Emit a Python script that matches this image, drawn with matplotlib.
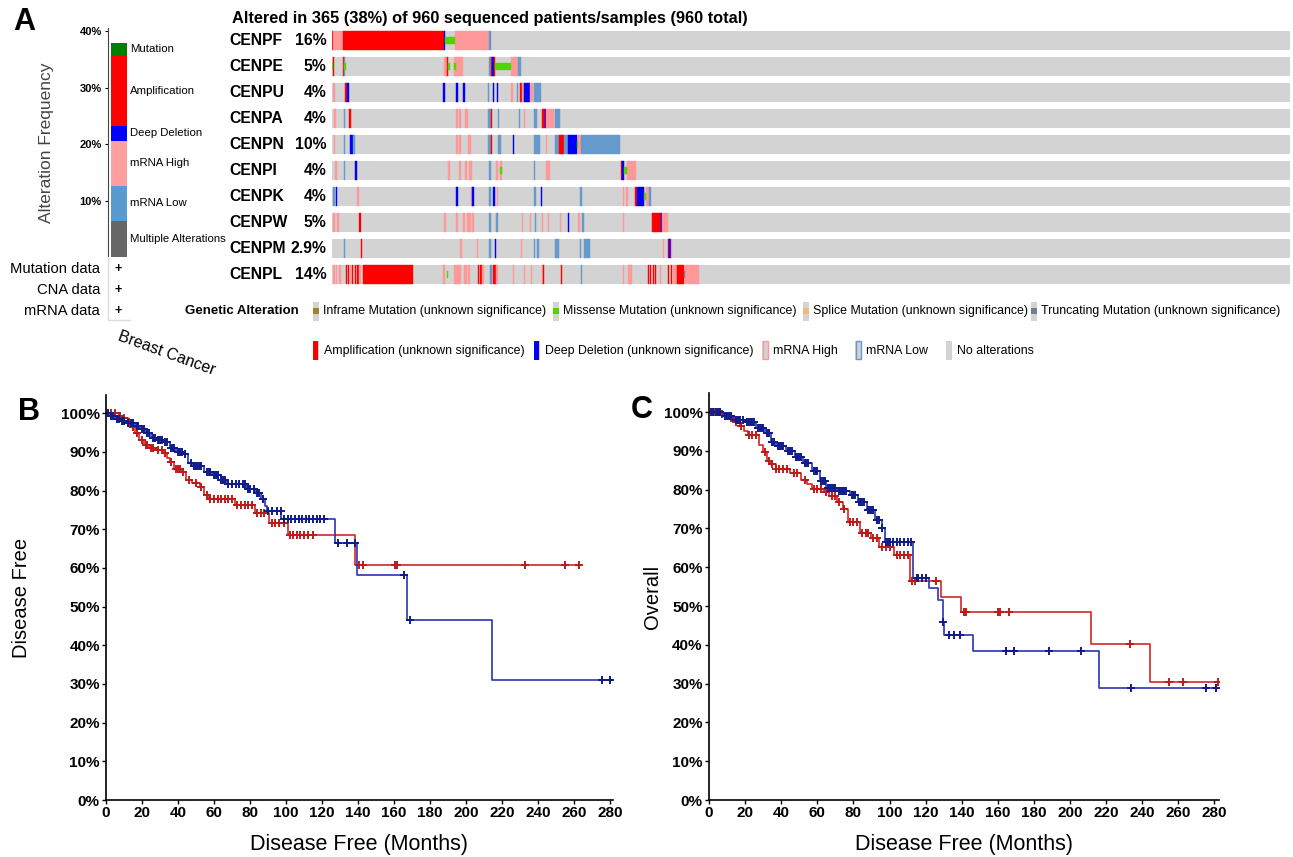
"""
plot.py
CENP family alterations in breast cancer: oncoprint (A) and
Kaplan-Meier curves for disease free (B) and overall survival (C).
"""
import matplotlib
matplotlib.use("Agg")
import matplotlib.pyplot as plt
import matplotlib.transforms as mtransforms
import numpy as np
from matplotlib.patches import Rectangle

W, H = 1293, 857
DPI = 100
OUT_PATH = "out.png"

# ---------------- panel A data ----------------
FREQ_LABELS = ["Multiple Alterations", "mRNA Low", "mRNA High",
               "Deep Deletion", "Amplification", "Mutation"]
FREQ_VALUES = [6.4, 6.2, 8.0, 2.7, 12.4, 2.3]
FREQ_COLORS = ["#666666", "#5a9bcf", "#ff9f9f", "#0000ff", "#ff0000", "#008000"]
FREQ_TICKS = [10, 20, 30, 40]

DATA_TYPES = ["Mutation data", "CNA data", "mRNA data"]

GENES = ["CENPF", "CENPE", "CENPU", "CENPA", "CENPN",
         "CENPI", "CENPK", "CENPW", "CENPM", "CENPL"]
GENE_PCT = ["16%", "5%", "4%", "4%", "10%", "4%", "4%", "5%", "2.9%", "14%"]
N_SAMPLES = 960

# (kind, first sample, last sample)
CENPF_ALT = [("amp", 0, 1.3), ("high", 1.3, 11), ("amp", 11, 112), ("del", 112, 113.5),
             ("mis", 113.5, 123), ("high", 123, 157), ("low", 157, 159.5)]
CENPE_ALT = [("mis", 0, 1), ("amp", 1.3, 2.5), ("amp", 11, 12), ("low", 12, 13), ("mis", 12.5, 14),
             ("high", 112, 115), ("amp", 115, 116.5), ("mis", 116.5, 118), ("high", 122, 131),
             ("mis", 122.5, 124.5), ("low", 157, 159), ("amp", 159, 160.5), ("del", 160.5, 162),
             ("amp", 162, 163), ("mis", 163, 179), ("high", 179, 186), ("low", 186, 189)]
CENPU_ALT = [("high", 0.7, 2.7), ("amp", 13.3, 14.7), ("del", 14.7, 17.3), ("del", 111.7, 113),
             ("del", 124, 126.7), ("del", 131, 133), ("low", 156, 157.5), ("del", 161, 162),
             ("del", 165, 166.5), ("high", 179, 181), ("low", 185.7, 186.7), ("amp", 188.7, 190.7),
             ("high", 190.7, 192), ("del", 192, 198), ("high", 198, 201), ("low", 202, 209.7)]
CENPA_ALT = [("high", 2, 4), ("low", 12, 13.3), ("amp", 17.3, 18.7), ("high", 124, 126),
             ("high", 127.7, 129.3), ("high", 133, 136), ("low", 156.7, 159.3), ("amp", 159.3, 160.7),
             ("low", 166.7, 167.7), ("low", 187.3, 188.3), ("high", 192, 193), ("low", 202, 205.7),
             ("amp", 210.7, 213.3), ("del", 213.3, 214.5), ("high", 214.7, 222.5), ("low", 223, 228)]
CENPN_ALT = [("high", 2, 3.3), ("low", 12, 13.3), ("del", 18, 20.7), ("low", 20.7, 23.3),
             ("high", 124, 126), ("high", 127.7, 129.3), ("high", 136, 139.3), ("low", 156.7, 159.3),
             ("amp", 159.3, 160.7), ("low", 166.7, 169), ("del", 181.3, 182.7), ("low", 202, 208.7),
             ("high", 214.7, 215.7), ("low", 223, 227.3), ("amp", 227.3, 232), ("low", 232, 236),
             ("del", 236, 245.7), ("mis", 245.7, 246.7), ("high", 246.7, 249.7), ("low", 249.7, 289)]
CENPI_ALT = [("high", 3.3, 5.3), ("low", 12, 13.3), ("del", 23.3, 24.7), ("high", 116.7, 118.7),
             ("high", 127.7, 129.3), ("high", 133, 135), ("high", 137.7, 140), ("low", 157.3, 159.3),
             ("high", 164, 166), ("high", 168, 170.7), ("mis", 168.7, 170), ("low", 202, 203),
             ("high", 214.7, 218), ("amp", 289.7, 291), ("del", 291, 292.7), ("mis", 292.7, 295.3),
             ("high", 295.3, 304.7)]
CENPK_ALT = [("low", 0.7, 2.7), ("del", 4, 5.3), ("high", 24.7, 26.7), ("del", 124, 126.3),
             ("high", 139.3, 140.5), ("del", 140.5, 142), ("low", 157, 159.3), ("del", 161, 163.3),
             ("high", 165.3, 166.7), ("low", 202, 204), ("del", 209.7, 210.7), ("low", 249, 250.7),
             ("high", 291.3, 293), ("high", 294.7, 296.3), ("amp", 304, 305.3), ("del", 305.3, 312.3),
             ("mis", 312.3, 314.7), ("high", 314.7, 317.3), ("low", 317.3, 319.7)]
CENPW_ALT = [("high", 1.3, 2.7), ("high", 4.7, 6.7), ("amp", 27.3, 28.7), ("high", 112, 114),
             ("high", 124, 126), ("high", 131, 133.3), ("high", 135.3, 139.3), ("high", 140, 142.7),
             ("low", 157.7, 159.3), ("low", 164.3, 166.7), ("high", 190.7, 191.7), ("high", 198, 199),
             ("low", 203.7, 204.7), ("high", 210.7, 211.7), ("high", 216.3, 217.3), ("high", 228, 229),
             ("del", 236, 237), ("high", 247, 249), ("low", 250.7, 252.7), ("high", 291.3, 292.3),
             ("amp", 320.7, 330), ("del", 330, 331), ("high", 331, 336.7)]
CENPM_ALT = [("low", 12, 13.3), ("amp", 28.7, 30), ("high", 128.7, 130.7), ("high", 145.3, 146.7),
             ("low", 157.7, 159.3), ("del", 163.3, 164.7), ("high", 189, 190), ("low", 202, 203),
             ("low", 205.7, 207), ("low", 223, 227.3), ("low", 249, 250), ("low", 253, 258.7),
             ("high", 331.7, 333), ("amp", 336.3, 338), ("del", 338, 339.3), ("high", 339.3, 340.7)]
CENPL_ALT = [("high", 0.7, 2.7), ("high", 4, 5.3), ("high", 7.3, 9.3), ("amp", 14.3, 15.3),
             ("amp", 16, 17.3), ("high", 18, 19.5), ("amp", 20, 21.3), ("amp", 22.7, 24),
             ("amp", 25.3, 26.7), ("high", 27.5, 29.5), ("amp", 30.7, 81), ("high", 111.3, 113.3),
             ("mis", 115, 116.7), ("high", 122, 129.3), ("high", 132.7, 135.3), ("high", 136, 138.7),
             ("amp", 146, 147.7), ("amp", 148.5, 150), ("high", 150, 152.7), ("low", 158.7, 160),
             ("amp", 161.7, 163), ("amp", 163.5, 164.7), ("high", 164.7, 166.5), ("high", 181.3, 182.7),
             ("high", 192, 193.3), ("high", 199, 200), ("high", 210, 211.3), ("amp", 211.3, 212.7),
             ("amp", 229, 230.3), ("low", 249.7, 251), ("high", 291.3, 292.7), ("high", 296.7, 300.7),
             ("amp", 317, 318), ("amp", 319, 320), ("amp", 321.3, 322.5), ("amp", 323.5, 324.7),
             ("high", 328.5, 329.5), ("amp", 336.3, 337.7), ("amp", 339.7, 340.7),
             ("high", 341.3, 345.3), ("amp", 345.7, 353), ("trunc", 353, 354), ("high", 354, 368)]
GENE_ALTS = [CENPF_ALT, CENPE_ALT, CENPU_ALT, CENPA_ALT, CENPN_ALT,
             CENPI_ALT, CENPK_ALT, CENPW_ALT, CENPM_ALT, CENPL_ALT]

ALT_COLORS = {"amp": "#ff0000", "del": "#0000ff", "high": "#ff9999", "low": "#6699cc",
              "mis": "#53d400", "trunc": "#708090", "inframe": "#a0802f", "splice": "#f0b87b",
              "none": "#d3d3d3"}
THIN_KINDS = ("mis", "trunc", "inframe", "splice")

LEGEND_ROW1 = [("Inframe Mutation (unknown significance)", "inframe"),
               ("Missense Mutation (unknown significance)", "mis"),
               ("Splice Mutation (unknown significance)", "splice"),
               ("Truncating Mutation (unknown significance)", "trunc")]
LEGEND_ROW2 = [("Amplification (unknown significance)", "amp"),
               ("Deep Deletion (unknown significance)", "del"),
               ("mRNA High", "high"), ("mRNA Low", "low"), ("No alterations", "none")]

# ---------------- panel B: disease free ----------------
DFS_ALT_T = [0, 7, 9.5, 12, 14, 16, 18.5, 21, 24, 27.5, 32, 34, 35.5, 37.7, 42, 44.5, 48,
             52, 54.6, 57, 71.6, 82.9, 90.8, 100.9, 138.2, 263.5]
DFS_ALT_S = [100, 99.4, 98.8, 97.6, 96.5, 95, 93.1, 91.8, 91.0, 90.5, 89.7, 88.5, 87.5, 85.5,
             84.9, 82.8, 82.0, 81.0, 78.9, 77.8, 76.3, 74.1, 71.6, 68.5, 60.8, 60.8]
DFS_ALT_CENS = [3, 5, 8, 10, 13, 15, 17, 20, 22, 23, 25, 26, 29, 31, 33, 36, 39, 40, 41, 43, 46,
                50, 53, 56, 58, 60, 62, 64, 66, 68, 70, 73, 75, 77, 79, 81, 84, 86, 88, 92, 94,
                96, 99, 102, 104, 106, 108, 110, 112, 115, 140.4, 142.7, 160.3, 161.9, 233,
                255, 262.8]
DFS_UN_T = [0, 2, 5, 8, 11.7, 16, 19, 22, 25, 28, 32, 35.5, 39, 43, 45.6, 48, 54.6, 59, 63.7,
            67, 78.4, 83, 86, 88.5, 89.6, 97.5, 127, 139.3, 167.5, 214.5, 280.4]
DFS_UN_S = [100, 99.3, 98.5, 98.0, 97.5, 96.8, 96.0, 95.0, 93.5, 93.0, 92.5, 91.0, 90.0, 89.5,
            87.0, 86.3, 84.8, 83.9, 82.8, 81.7, 80.5, 79.3, 77.8, 76.0, 74.7, 72.6, 66.4, 58.2,
            46.6, 31.1, 31.1]
DFS_UN_CENS = [1, 3, 4, 6, 7, 9, 10, 12, 14, 15, 17, 18, 20, 21, 23, 24, 26, 27, 29, 30, 31, 33,
               34, 36, 37, 38, 40, 41, 42, 44, 47, 49, 50, 51, 52, 53, 56, 57, 58, 60, 61, 62,
               64, 65, 66, 68, 70, 72, 74, 76, 77, 79, 80, 82, 84, 85, 87, 90, 92, 95, 97, 99,
               101, 103, 105, 107, 109, 111, 113, 115, 117, 119, 121, 129, 133.7, 138.6, 165.3,
               169, 275.5, 280]

# ---------------- panel C: overall ----------------
OS_ALT_T = [0, 5, 10, 13.4, 17.4, 19.3, 21.6, 27.5, 29.8, 32.2, 34, 36.9, 45, 51, 54.5, 56.8,
            63.9, 66.2, 71, 74.5, 76.8, 83.9, 89.7, 94.4, 102.6, 111.3, 128.5, 139.5, 211.4,
            244.3, 282]
OS_ALT_S = [100, 99.5, 98.5, 97.5, 96.5, 95.0, 94.0, 91.6, 89.6, 87.5, 86.6, 85.2, 84.3, 82.6,
            81.4, 80.1, 79.3, 78.4, 76.8, 74.9, 71.6, 68.9, 67.4, 65.3, 63.2, 56.5, 52.4, 48.4,
            40.2, 30.3, 30.3]
OS_ALT_CENS = [3, 7, 12, 15, 18, 22, 24, 26, 31, 33, 35, 37, 39, 41, 43, 47, 49, 53, 58, 60, 62,
               65, 68, 70, 72, 75, 78, 80, 82, 85, 87, 88, 91, 93, 96, 98, 100, 104, 106, 108,
               110, 112.5, 114, 126, 141.2, 142.6, 160.2, 161.4, 166, 233, 254.6, 262.4, 281.9]
OS_UN_T = [0, 7.5, 13.4, 20.4, 26.3, 31, 34.5, 36.9, 42.7, 47.4, 52, 56.8, 61.5, 65, 71, 78,
           82.7, 87.4, 92, 95.6, 97.5, 113.2, 122.1, 126.8, 129.7, 130.2, 146, 216, 281]
OS_UN_S = [100, 99.0, 98.0, 97.4, 96.0, 94.5, 92.2, 91.2, 90.0, 88.5, 86.8, 84.8, 82.3, 80.5,
           79.6, 78.5, 76.8, 74.7, 72.2, 70.1, 66.5, 57.2, 54.6, 51.5, 45.9, 42.6, 38.5, 28.9,
           28.9]
OS_UN_CENS = [1, 2, 4, 5, 6, 9, 10, 11, 12, 15, 16, 17, 19, 21, 22, 23, 24, 25, 27, 28, 29, 30,
              32, 33, 35, 36, 38, 39, 40, 41, 44, 45, 46, 48, 49, 50, 51, 53, 54, 55, 58, 59, 60,
              62, 63, 64, 66, 67, 68, 69, 70, 72, 73, 74, 75, 76, 79, 80, 81, 83, 84, 85, 86, 88,
              89, 90, 91, 93, 94, 96, 98, 99, 100, 102, 104, 106, 108, 110, 112, 115, 116, 118,
              120, 129.7, 133.2, 135.5, 139, 164.7, 169, 188.4, 206, 233.7, 275.3, 280.7]

KM_X_TICKS = list(range(0, 281, 20))
KM_Y_TICKS = list(range(0, 101, 10))
RED_LINE, RED_MARK, RED_BOX = "#d42525", "#bf1a1a", "#c00000"
BLUE_LINE, BLUE_MARK, BLUE_BOX = "#2a35b0", "#0f1c8a", "#000080"


def px_axes(fig, x0, y0, x1, y1):
    """Axes placed by pixel box (top-left origin)."""
    return fig.add_axes([x0 / W, 1 - y1 / H, (x1 - x0) / W, (y1 - y0) / H])


def draw_frequency_bar(fig):
    ax = px_axes(fig, 108, 28, 128, 257)
    bottom = 0.0
    trans = mtransforms.blended_transform_factory(ax.transAxes, ax.transData)
    for label, val, col in zip(FREQ_LABELS, FREQ_VALUES, FREQ_COLORS):
        ax.bar(0.55, val, bottom=bottom, width=0.8, color=col, linewidth=0)
        ax.text(1.1, bottom + val / 2, label, transform=trans, fontsize=8.2,
                va="center", ha="left")
        bottom += val
    ax.set_xlim(0, 1)
    ax.set_ylim(0, 40.6)
    for side in ("top", "right", "bottom"):
        ax.spines[side].set_visible(False)
    ax.spines["left"].set_color("#444444")
    ax.set_xticks([])
    ax.set_yticks(FREQ_TICKS)
    ax.set_yticklabels([f"{t}%" for t in FREQ_TICKS], fontsize=8, fontweight="bold")
    ax.tick_params(axis="y", length=2.5, width=0.8, pad=2)
    ax.set_ylabel("Alteration Frequency", fontsize=12.5, color="#444444")
    ax.yaxis.label.set_va("center")
    ax.yaxis.set_label_coords(-3.1, 0.5)
    ax.patch.set_alpha(0)


def draw_oncoprint(fig):
    ax = px_axes(fig, 332, 27.5, 1290, 287.5)
    ax.set_xlim(0, N_SAMPLES)
    ax.set_ylim(len(GENES) - 0.5, -0.5)
    ax.axis("off")
    rows = np.arange(len(GENES))
    ax.barh(rows, N_SAMPLES, left=0, height=0.73, color=ALT_COLORS["none"], linewidth=0)
    trans = mtransforms.blended_transform_factory(ax.transAxes, ax.transData)
    for i, (gene, pct, alts) in enumerate(zip(GENES, GENE_PCT, GENE_ALTS)):
        full = [a for a in alts if a[0] not in THIN_KINDS]
        thin = [a for a in alts if a[0] in THIN_KINDS]
        for kind, s, e in full + thin:
            h = 0.25 if kind in THIN_KINDS else 0.73
            ax.barh(i, e - s, left=s, height=h, color=ALT_COLORS[kind],
                    edgecolor=ALT_COLORS[kind], linewidth=0.3)
        ax.text(-0.1075, i, gene, transform=trans, ha="left", va="center",
                fontsize=11.3, fontweight="bold")
        ax.text(-0.006, i, pct, transform=trans, ha="right", va="center",
                fontsize=11.3, fontweight="bold")


def draw_swatch(canvas, x, yc, kind):
    canvas.add_patch(Rectangle((x, yc - 9.5), 6, 19, color=ALT_COLORS["none"], lw=0))
    if kind in THIN_KINDS:
        canvas.add_patch(Rectangle((x, yc - 3), 6, 6, color=ALT_COLORS[kind], lw=0))
    elif kind in ("amp", "del"):
        canvas.add_patch(Rectangle((x, yc - 9.5), 5, 19, color=ALT_COLORS[kind], lw=0))
    elif kind in ("high", "low"):
        canvas.add_patch(Rectangle((x + 0.5, yc - 9), 5, 18, facecolor=ALT_COLORS["none"],
                                   edgecolor=ALT_COLORS[kind], lw=1))


def draw_panel_a_text(canvas):
    canvas.text(24, 22, "A", fontsize=22, fontweight="bold", ha="center", va="center")
    canvas.text(232, 18, "Altered in 365 (38%) of 960 sequenced patients/samples (960 total)",
                fontsize=11.8, fontweight="bold", va="center")
    for y, name in zip([269, 290, 311], DATA_TYPES):
        canvas.text(100, y, name, ha="right", va="center", fontsize=10.6)
        canvas.text(118, y, "+", ha="center", va="center", fontsize=9, fontweight="bold")
    canvas.plot([108, 108, 130], [257, 320, 320], color="#dddddd", lw=1)
    canvas.text(167, 353, "Breast Cancer", rotation=-20, rotation_mode="anchor",
                ha="center", va="center", fontsize=11.5)

    canvas.text(185, 311, "Genetic Alteration", fontsize=9.5, fontweight="bold",
                va="center")
    for x, (label, kind) in zip([313, 553, 803, 1031], LEGEND_ROW1):
        draw_swatch(canvas, x, 311, kind)
        canvas.text(x + 10, 311, label, fontsize=8.9, va="center")
    for x, (label, kind) in zip([313, 534, 762, 855, 946], LEGEND_ROW2):
        draw_swatch(canvas, x, 350, kind)
        canvas.text(x + 11, 351, label, fontsize=8.9, va="center")


def step_value(times, surv, t):
    idx = np.searchsorted(times, t, side="right") - 1
    return np.asarray(surv)[idx]


def draw_km(fig, canvas, box, xmax, ymax, alt, unalt, ylabel, ylabel_x, title,
            pval, pval_xy, legend_x, letter, letter_xy):
    ax = px_axes(fig, *box)
    for (t, s, cens), line_c, mark_c in ((alt, RED_LINE, RED_MARK), (unalt, BLUE_LINE, BLUE_MARK)):
        t = np.asarray(t, dtype=float)
        ax.step(t, s, where="post", color=line_c, lw=1.2)
        cens = np.asarray(cens, dtype=float)
        ax.plot(cens, step_value(t, s, cens), linestyle="none", marker="+",
                ms=6, mew=1.4, color=mark_c)
    ax.set_xlim(0, xmax)
    ax.set_ylim(0, ymax)
    ax.set_xticks(KM_X_TICKS)
    ax.set_xticklabels([str(v) for v in KM_X_TICKS], fontsize=11, fontweight="bold")
    ax.set_yticks(KM_Y_TICKS)
    ax.set_yticklabels([f"{v}%" for v in KM_Y_TICKS], fontsize=11, fontweight="bold")
    ax.tick_params(length=3, width=1, pad=1.5)
    for side in ("top", "right"):
        ax.spines[side].set_visible(False)
    for side in ("left", "bottom"):
        ax.spines[side].set_linewidth(1.2)
    ax.set_xlabel("Disease Free (Months)", fontsize=15.5)
    ax.xaxis.label.set_va("center")
    ax.xaxis.set_label_coords(0.5, -0.11)
    ax.set_ylabel(ylabel, fontsize=14.5)
    ax.yaxis.label.set_va("center")
    ax.yaxis.set_label_coords(ylabel_x, 0.5)

    canvas.text(*letter_xy, letter, fontsize=22, fontweight="bold", ha="center", va="center")
    canvas.text(*pval_xy, pval, fontsize=13, va="center")
    canvas.text(legend_x, 686, title, fontsize=13, fontweight="bold", va="center")
    for y, col, lab in ((724, RED_BOX, "Altered group"), (751, BLUE_BOX, "Unaltered group")):
        canvas.add_patch(Rectangle((legend_x + 3, y - 7.5), 14, 15, color=col, lw=0))
        canvas.text(legend_x + 33, y, lab, fontsize=13, va="center")


def main() -> None:
    plt.rcParams["font.family"] = ["Liberation Sans", "DejaVu Sans"]
    fig = plt.figure(figsize=(W / DPI, H / DPI), dpi=DPI)

    draw_frequency_bar(fig)
    draw_oncoprint(fig)
    b_box = (106, 395, 613, 800)
    c_box = (709, 393, 1219, 800)
    canvas = fig.add_axes([0, 0, 1, 1])
    canvas.set_xlim(0, W)
    canvas.set_ylim(H, 0)
    canvas.axis("off")

    draw_panel_a_text(canvas)
    draw_km(fig, canvas, b_box, 281.7, 104.7,
            (DFS_ALT_T, DFS_ALT_S, DFS_ALT_CENS), (DFS_UN_T, DFS_UN_S, DFS_UN_CENS),
            "Disease Free", -0.166, "Disease Free", "Logrank Test P-Value: 0.248",
            (375, 432), 138, "B", (29, 412))
    draw_km(fig, canvas, c_box, 282.5, 104.9,
            (OS_ALT_T, OS_ALT_S, OS_ALT_CENS), (OS_UN_T, OS_UN_S, OS_UN_CENS),
            "Overall", -0.11, "Overall", "Logrank Test P-Value: 0.321",
            (975, 432), 744, "C", (642, 410))

    fig.savefig(OUT_PATH, dpi=DPI)
    plt.close(fig)


if __name__ == "__main__":
    main()
